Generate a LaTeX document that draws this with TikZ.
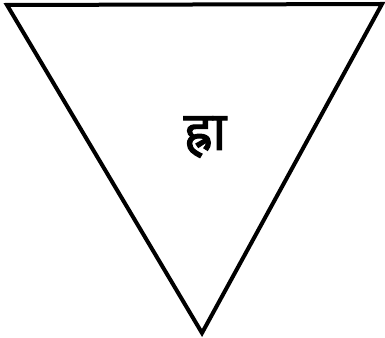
\documentclass[tikz,border=0pt]{standalone}
\usepackage{fontspec}
\newfontfamily\devfont[Script=Devanagari,FakeBold=2]{Noto Sans}
\definecolor{Cink}{HTML}{000000}

\begin{document}
\begin{tikzpicture}[x=1pt,y=1pt]
		\useasboundingbox (0,0) rectangle (385,337);
		\coordinate (tl) at (7,332);
		\coordinate (tr) at (382,333);
		\coordinate (apex) at (202,4);
		\draw[Cink,line width=4pt,line join=miter] (tl)--(tr)--(apex)--cycle;
		\node[Cink,inner sep=0pt] (bija) at (205,200) {\devfont\fontsize{54}{54}\selectfont ह्रा};
	\end{tikzpicture}
\end{document}
